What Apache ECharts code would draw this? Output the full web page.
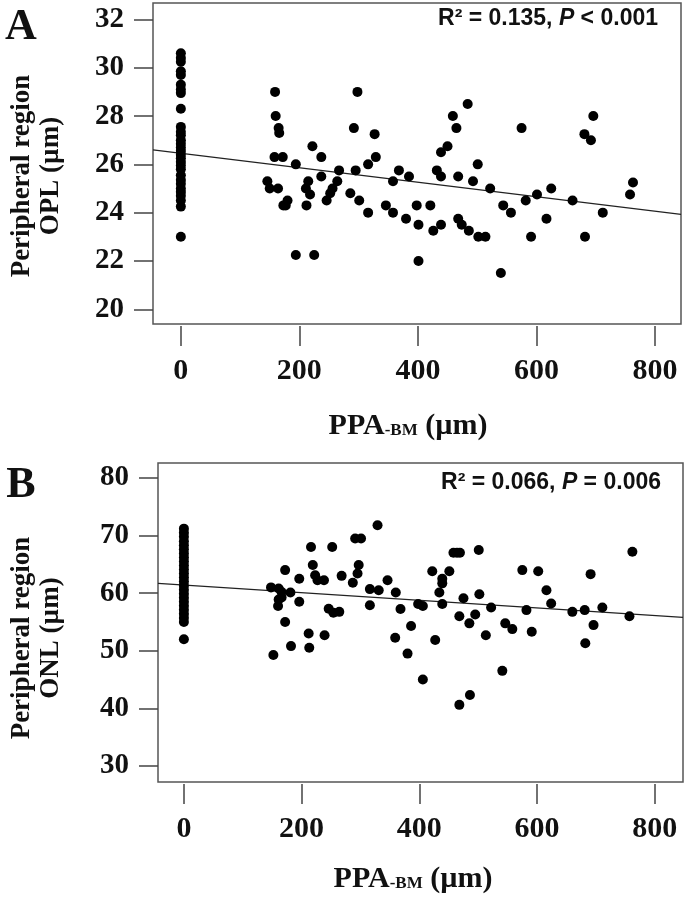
<!DOCTYPE html>
<html>
<head>
<meta charset="utf-8">
<script src="https://cdn.jsdelivr.net/npm/echarts@6/dist/echarts.min.js"></script>
<style>
html,body{margin:0;padding:0;background:#fff;}
#chart{width:685px;height:898px;}
</style>
</head>
<body>
<div id="chart"></div>
<script>
// ---------- Data ----------
// Panel A: PPA-BM (µm) vs peripheral OPL thickness (µm)
const ppaA = [
  0,0,0,0,0,0,0,0,0,0,0,0,0,0,0,0,0,0,0,0,0,0,0,0,0,0,0,0,0,0,
  159,160,165,166,158,172,146,150,164,173,180,177,194,194,225,222,215,211,218,212,
  237,237,267,264,256,252,246,298,292,295,286,301,316,327,329,316,346,358,358,368,
  385,380,398,401,401,421,426,439,432,439,439,450,459,465,484,468,468,474,486,493,
  501,502,514,522,540,544,557,575,582,591,601,617,625,661,682,681,692,696,712,758,763
];
const oplA = [
  30.6,30.4,30.25,29.85,29.7,29.3,29.1,28.95,28.3,27.55,27.35,27.2,27.0,26.85,26.7,
  26.55,26.4,26.25,26.1,25.95,25.8,25.55,25.35,25.2,25.0,24.85,24.7,24.5,24.25,23.0,
  29.0,28.0,27.5,27.3,26.3,26.3,25.3,25.0,25.0,24.3,24.5,24.3,26.0,22.25,22.25,26.75,25.3,25.0,24.75,24.3,
  26.3,25.5,25.75,25.3,25.0,24.8,24.5,29.0,27.5,25.75,24.8,24.5,26.0,27.25,26.3,24.0,24.3,24.0,25.3,25.75,
  25.5,23.75,24.3,23.5,22.0,24.3,23.25,23.5,25.75,25.5,26.5,26.75,28.0,27.5,28.5,25.5,23.75,23.5,23.25,25.3,
  26.0,23.0,23.0,25.0,21.5,24.3,24.0,27.5,24.5,23.0,24.75,23.75,25.0,24.5,23.0,27.25,27.0,28.0,24.0,24.75,25.25
];
// Panel B: PPA-BM (µm) vs peripheral ONL thickness (µm)
const ppaB = [
  0,0,0,0,0,0,0,0,0,0,0,0,0,0,0,0,0,0,0,0,0,0,0,0,0,
  152,148,161,166,161,160,166,172,172,181,182,196,196,212,213,216,219,223,227,238,
  239,252,246,254,264,268,287,291,301,297,295,316,331,316,329,346,360,368,359,386,
  380,406,398,406,427,439,434,439,439,422,451,458,464,469,501,475,468,485,495,502,
  468,486,513,522,541,546,558,575,582,591,602,616,624,660,681,682,691,696,711,757,762
];
const onlB = [
  71.2,70.5,69.8,69.0,68.3,67.6,66.9,66.2,65.5,64.8,64.1,63.4,62.7,62.0,61.3,
  60.6,59.9,59.2,58.5,57.8,57.1,56.4,55.7,55.0,52.0,
  49.25,61.0,60.8,60.2,58.9,57.75,59.25,64.0,55.0,60.1,50.8,62.5,58.5,53.0,50.5,68.0,64.9,63.1,62.25,62.25,
  52.7,68.0,57.3,56.6,56.75,63.0,61.8,69.5,69.5,64.9,63.4,60.7,60.5,57.9,71.8,62.25,60.1,57.25,52.25,54.3,
  49.5,45.0,58.1,57.75,51.85,58.1,60.1,61.7,62.5,63.8,63.8,67.0,67.0,67.0,67.5,59.1,56.0,54.75,56.3,59.8,
  40.6,42.3,52.7,57.5,46.5,54.75,53.75,64.0,57.05,53.3,63.8,60.5,58.2,56.75,57.05,51.3,63.3,54.45,57.5,56.0,67.2
];
// Fitted regression lines: [intercept, slope]
const fitA = [26.46, -0.00300];
const fitB = [61.4, -0.0066];
// Tick labels
const xTicks = [0, 200, 400, 600, 800];
const yTicksA = [20, 22, 24, 26, 28, 30, 32];
const yTicksB = [30, 40, 50, 60, 70, 80];
// Annotation texts
const statsA = ['R² = 0.135, ', 'P', ' < 0.001'];
const statsB = ['R² = 0.066, ', 'P', ' = 0.006'];
const yTitleA = ['Peripheral region', 'OPL (µm)'];
const yTitleB = ['Peripheral region', 'ONL (µm)'];

// ---------- Axis ranges ----------
const xRangeA = [-47, 844];
const xRangeB = [-44, 848];
const yRangeA = [19.39, 32.68];
const yRangeB = [27.2, 82.6];

const SERIF = '"Liberation Serif","Times New Roman",serif';
const SANS = '"Liberation Sans",Arial,sans-serif';

function pairs(xs, ys) { return xs.map((x, i) => [x, ys[i]]); }
function fitLine(fit, range) {
  return [[range[0], fit[0] + fit[1] * range[0]], [range[1], fit[0] + fit[1] * range[1]]];
}
function xAxisCfg(idx, range) {
  return {
    type: 'value', gridIndex: idx, min: range[0], max: range[1], offset: 2, position: 'bottom',
    axisLine: { show: false, onZero: false },
    axisTick: { show: true, customValues: xTicks, length: 20, lineStyle: { color: '#444', width: 1.5 } },
    axisLabel: { customValues: xTicks, margin: 30, color: '#111', fontFamily: SERIF, fontWeight: 'bold', fontSize: 30 },
    splitLine: { show: false }
  };
}
function yAxisCfg(idx, range, ticks) {
  return {
    type: 'value', gridIndex: idx, min: range[0], max: range[1], position: 'left',
    axisLine: { show: false, onZero: false },
    axisTick: { show: true, customValues: ticks, length: 19, lineStyle: { color: '#444', width: 1.5 } },
    axisLabel: { customValues: ticks, margin: 29, color: '#111', fontFamily: SERIF, fontWeight: 'bold', fontSize: 29 },
    splitLine: { show: false }
  };
}
function statsText(parts, right, cy) {
  return {
    type: 'text', x: right, y: cy,
    style: {
      text: '{n|' + parts[0] + '}{i|' + parts[1] + '}{n|' + parts[2] + '}',
      align: 'right', verticalAlign: 'middle',
      rich: {
        n: { fontFamily: SANS, fontWeight: 'bold', fontSize: 23, fill: '#111' },
        i: { fontFamily: SANS, fontWeight: 'bold', fontStyle: 'italic', fontSize: 23, fill: '#111' }
      }
    }
  };
}
function xTitle(cx, cy) {
  return {
    type: 'text', x: cx, y: cy,
    style: {
      text: '{a|PPA}{s|-BM}{a| (µm)}',
      align: 'center', verticalAlign: 'middle',
      rich: {
        a: { fontFamily: SERIF, fontWeight: 'bold', fontSize: 30, fill: '#111', lineHeight: 34, verticalAlign: 'bottom' },
        s: { fontFamily: SERIF, fontWeight: 'bold', fontSize: 17, fill: '#111', lineHeight: 34, verticalAlign: 'bottom', padding: [0, 0, 2, 0] }
      }
    }
  };
}
function yTitle(lines, cx, cy) {
  return {
    type: 'text', x: cx, y: cy, rotation: Math.PI / 2,
    style: {
      text: lines.join('\n'), align: 'center', verticalAlign: 'middle',
      fontFamily: SERIF, fontWeight: 'bold', fontSize: 27, lineHeight: 29, fill: '#111'
    }
  };
}
function panelLetter(t, cx, cy) {
  return {
    type: 'text', x: cx, y: cy,
    style: { text: t, align: 'center', verticalAlign: 'middle', fontFamily: SERIF, fontWeight: 'bold', fontSize: 44, fill: '#111' }
  };
}

const chart = echarts.init(document.getElementById('chart'), null, { renderer: 'canvas' });
chart.setOption({
  backgroundColor: '#fff',
  animation: false,
  grid: [
    { left: 153, top: 3, width: 528, height: 321, show: true, borderColor: '#555', borderWidth: 1.5, backgroundColor: 'transparent' },
    { left: 158, top: 463, width: 525, height: 319, show: true, borderColor: '#555', borderWidth: 1.5, backgroundColor: 'transparent' }
  ],
  xAxis: [xAxisCfg(0, xRangeA), xAxisCfg(1, xRangeB)],
  yAxis: [yAxisCfg(0, yRangeA, yTicksA), yAxisCfg(1, yRangeB, yTicksB)],
  series: [
    { type: 'scatter', xAxisIndex: 0, yAxisIndex: 0, data: pairs(ppaA, oplA), symbol: 'circle', symbolSize: 10, itemStyle: { color: '#000', opacity: 1 } },
    { type: 'line', xAxisIndex: 0, yAxisIndex: 0, data: fitLine(fitA, xRangeA), showSymbol: false, symbol: 'none', lineStyle: { color: '#222', width: 1.2 }, z: 1 },
    { type: 'scatter', xAxisIndex: 1, yAxisIndex: 1, data: pairs(ppaB, onlB), symbol: 'circle', symbolSize: 10, itemStyle: { color: '#000', opacity: 1 } },
    { type: 'line', xAxisIndex: 1, yAxisIndex: 1, data: fitLine(fitB, xRangeB), showSymbol: false, symbol: 'none', lineStyle: { color: '#222', width: 1.2 }, z: 1 }
  ],
  graphic: [
    panelLetter('A', 21, 28),
    panelLetter('B', 21, 486),
    statsText(statsA, 658, 19),
    statsText(statsB, 661, 483),
    xTitle(408, 424),
    xTitle(413, 877),
    yTitle(yTitleA, 37, 176),
    yTitle(yTitleB, 37, 638)
  ]
});
</script>
</body>
</html>
